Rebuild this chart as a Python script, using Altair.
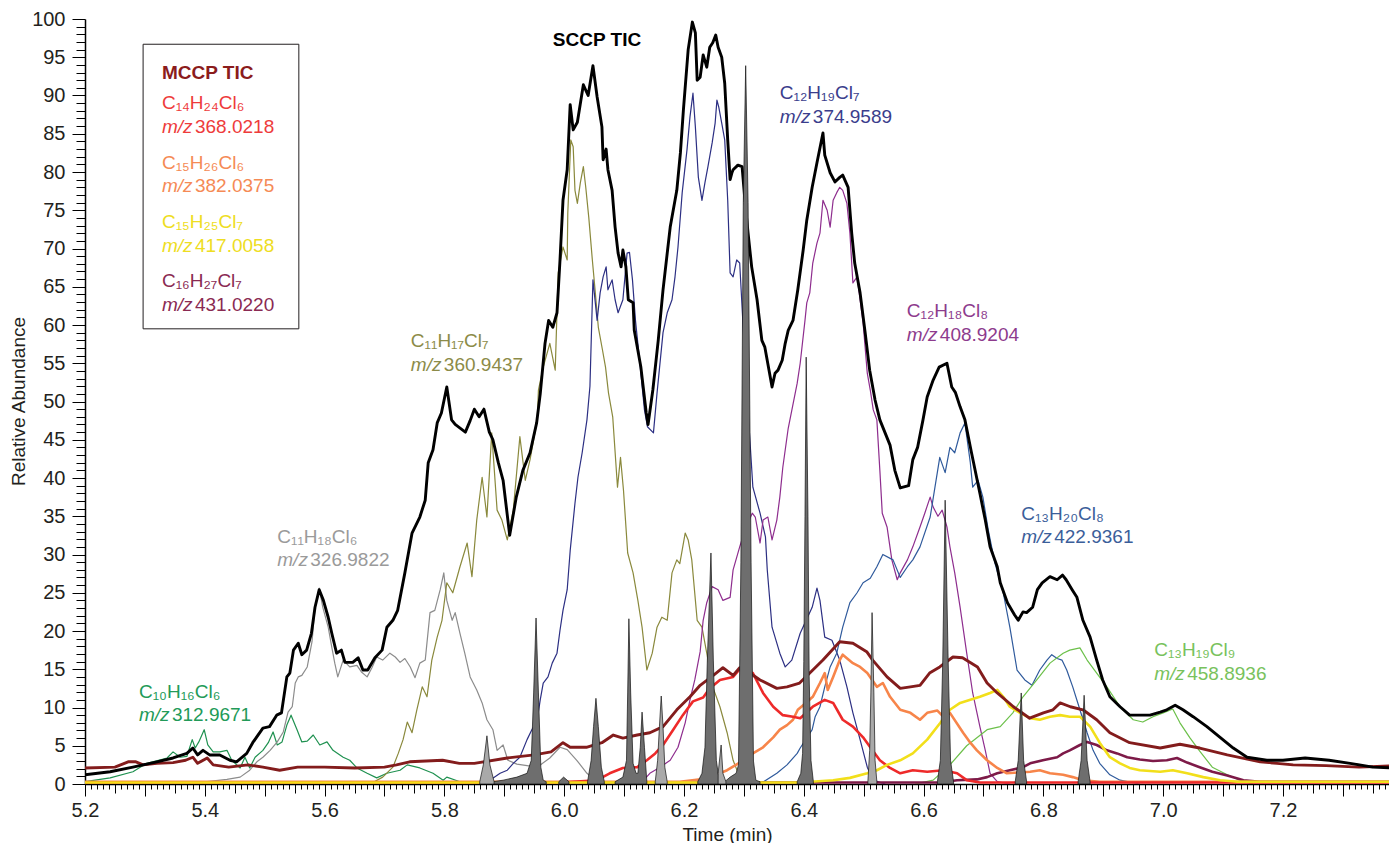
import altair as alt
import pandas as pd

FONT = "Liberation Sans Narrow, Arial Narrow, Liberation Sans, sans-serif"

# ---------------- data (time in min, relative abundance) ----------------
SCCP_TIC = [(5.200,1.2),(5.242,1.6),(5.280,2.2),(5.320,2.9),(5.347,3.4),(5.370,4.0),(5.380,4.7),(5.388,3.8),
 (5.397,4.4),(5.408,3.8),(5.425,3.8),(5.442,3.1),(5.453,2.9),(5.470,4.0),(5.480,5.4),(5.497,7.3),(5.508,7.5),
 (5.520,9.0),(5.528,9.3),(5.537,14.0),(5.542,14.5),(5.548,17.5),(5.556,18.4),(5.562,16.9),(5.570,17.5),
 (5.578,19.7),(5.584,23.1),(5.591,25.4),(5.598,24.0),(5.606,21.8),(5.612,19.7),(5.620,17.1),(5.628,17.5),
 (5.634,15.9),(5.647,15.9),(5.656,16.5),(5.664,14.9),(5.672,14.9),(5.684,16.5),(5.696,17.5),(5.704,20.5),
 (5.714,21.4),(5.722,22.7),(5.734,27.6),(5.746,32.8),(5.759,34.9),(5.768,37.1),(5.773,42.0),(5.781,43.7),
 (5.788,47.2),(5.795,48.5),(5.804,51.9),(5.812,47.6),(5.818,47.0),(5.835,46.0),(5.843,47.5),(5.850,49.0),
 (5.858,48.0),(5.866,49.0),(5.875,46.0),(5.881,45.0),(5.890,42.0),(5.898,39.7),(5.906,34.5),(5.909,32.5),
 (5.920,37.5),(5.931,41.0),(5.943,43.3),(5.954,47.2),(5.960,51.0),(5.968,57.6),(5.974,60.6),(5.981,59.7),
 (5.988,61.6),(5.993,68.5),(5.998,76.3),(6.005,80.3),(6.010,88.8),(6.015,85.5),(6.022,86.5),(6.032,91.4),
 (6.040,90.0),(6.048,93.9),(6.055,89.8),(6.063,85.9),(6.065,81.6),(6.070,83.0),(6.073,80.3),(6.080,77.6),
 (6.085,72.8),(6.090,69.4),(6.095,67.6),(6.098,69.8),(6.103,67.6),(6.107,63.3),(6.115,62.9),(6.117,59.3),
 (6.128,54.5),(6.137,48.5),(6.140,47.0),(6.148,51.5),(6.157,58.0),(6.165,64.6),(6.177,72.8),(6.188,77.6),
 (6.194,82.5),(6.199,88.1),(6.207,96.0),(6.214,99.6),(6.219,98.2),(6.222,92.0),(6.227,92.4),(6.232,95.3),
 (6.238,93.7),(6.243,96.3),(6.248,96.9),(6.253,97.9),(6.257,96.3),(6.263,95.0),(6.268,91.6),(6.273,84.2),
 (6.277,79.0),(6.280,79.9),(6.282,80.3),(6.290,80.9),(6.297,80.7),(6.302,76.0),(6.307,72.0),(6.313,67.6),
 (6.322,63.3),(6.330,58.0),(6.335,57.1),(6.344,53.2),(6.347,51.9),(6.352,53.7),(6.357,54.1),(6.364,55.4),
 (6.369,57.6),(6.374,59.3),(6.382,60.6),(6.390,64.6),(6.399,69.8),(6.405,73.7),(6.414,78.0),(6.422,81.2),
 (6.432,85.1),(6.435,82.2),(6.444,79.9),(6.452,78.7),(6.460,79.3),(6.465,79.6),(6.474,78.0),(6.480,72.0),
 (6.485,68.1),(6.494,64.2),(6.502,59.3),(6.510,54.1),(6.519,50.2),(6.527,47.6),(6.544,44.3),(6.552,41.0),
 (6.561,38.7),(6.575,39.0),(6.582,42.4),(6.590,44.0),(6.599,47.6),(6.606,50.6),(6.616,52.8),(6.626,54.5),
 (6.639,55.0),(6.647,51.9),(6.653,51.2),(6.661,49.3),(6.669,47.6),(6.680,43.3),(6.694,38.0),(6.703,34.5),
 (6.711,31.0),(6.723,28.4),(6.728,26.3),(6.740,23.7),(6.752,22.1),(6.758,21.4),(6.766,22.5),(6.772,22.4),
 (6.782,23.1),(6.790,25.4),(6.798,26.3),(6.811,27.1),(6.823,26.7),(6.832,27.3),(6.838,26.7),(6.848,25.4),
 (6.856,24.4),(6.866,21.4),(6.878,19.2),(6.889,16.2),(6.899,13.6),(6.911,11.4),(6.928,10.1),(6.944,9.0),
 (6.961,9.0),(6.978,9.0),(6.995,9.4),(7.006,9.7),(7.020,10.3),(7.033,9.7),(7.050,8.8),(7.073,7.5),
 (7.095,6.1),(7.117,4.7),(7.140,3.5),(7.173,3.1),(7.200,3.1),(7.237,3.4),(7.277,3.1),(7.312,2.7),
 (7.350,2.2),(7.390,2.1)]

MCCP_TIC = [(5.200,2.1),(5.250,2.2),(5.272,2.9),(5.285,2.9),(5.297,2.5),(5.320,2.7),(5.347,2.8),(5.368,3.1),
 (5.380,3.5),(5.388,2.7),(5.404,3.4),(5.414,2.5),(5.440,2.2),(5.472,2.5),(5.497,2.2),(5.525,1.8),(5.555,2.2),
 (5.600,2.2),(5.650,2.1),(5.700,2.2),(5.720,2.5),(5.742,2.9),(5.797,3.1),(5.825,2.7),(5.850,2.7),(5.905,3.4),
 (5.950,3.8),(5.978,4.2),(5.998,5.4),(6.010,4.8),(6.037,4.8),(6.063,5.4),(6.082,6.4),(6.098,6.0),(6.122,6.4),
 (6.143,6.7),(6.165,7.5),(6.188,9.7),(6.210,11.4),(6.227,12.9),(6.249,14.2),(6.265,15.2),(6.282,14.2),
 (6.293,15.2),(6.310,14.5),(6.327,13.6),(6.355,12.5),(6.372,12.7),(6.393,13.2),(6.410,14.5),(6.432,16.2),
 (6.460,18.6),(6.482,18.4),(6.505,17.3),(6.515,16.2),(6.539,14.0),(6.561,12.5),(6.578,12.7),(6.594,12.9),
 (6.610,14.5),(6.627,15.3),(6.649,16.6),(6.665,16.5),(6.690,15.3),(6.706,13.2),(6.723,11.9),(6.750,10.1),
 (6.777,8.6),(6.800,9.3),(6.816,9.7),(6.828,10.6),(6.845,10.1),(6.866,9.7),(6.889,8.4),(6.911,6.7),
 (6.944,5.4),(6.995,4.7),(7.028,5.2),(7.061,4.7),(7.107,3.8),(7.162,2.9),(7.190,2.7),(7.217,2.5),
 (7.272,2.4),(7.327,2.2),(7.390,2.4)]

C10H16Cl6 = [(5.200,0.3),(5.242,0.8),(5.280,1.6),(5.303,2.7),(5.313,2.9),(5.337,3.4),(5.347,4.2),(5.359,3.5),
 (5.370,3.6),(5.379,5.8),(5.384,4.7),(5.390,5.5),(5.399,7.1),(5.405,5.1),(5.414,4.2),(5.425,4.2),(5.437,4.4),
 (5.445,3.1),(5.459,2.1),(5.467,3.5),(5.475,2.1),(5.484,3.5),(5.497,4.4),(5.506,5.4),(5.514,6.8),(5.521,5.1),
 (5.529,5.5),(5.537,7.7),(5.544,9.0),(5.554,7.1),(5.562,5.5),(5.571,5.6),(5.581,6.4),(5.592,5.1),(5.604,5.5),
 (5.614,4.4),(5.631,3.5),(5.642,3.1),(5.654,2.1),(5.671,1.4),(5.687,0.8),(5.704,1.4),(5.726,1.8),(5.738,2.5),
 (5.759,2.1),(5.781,1.4),(5.798,0.5),(5.804,0.9),(5.826,0.3),(5.860,0.2),(5.950,0.1)]

C11H18Cl6 = [(5.392,0.0),(5.404,0.3),(5.437,0.6),(5.459,0.9),(5.475,1.8),(5.487,2.9),(5.497,3.5),(5.509,4.4),
 (5.521,5.5),(5.531,6.8),(5.539,9.4),(5.546,10.1),(5.551,13.2),(5.556,14.0),(5.562,14.2),(5.571,15.3),
 (5.579,18.6),(5.584,23.1),(5.591,25.6),(5.597,23.1),(5.606,20.5),(5.612,17.9),(5.617,15.8),(5.622,14.0),
 (5.631,16.2),(5.642,15.3),(5.654,15.5),(5.662,14.6),(5.671,14.0),(5.679,15.2),(5.687,16.6),(5.697,16.2),
 (5.709,17.1),(5.718,16.6),(5.726,15.9),(5.734,16.4),(5.743,15.3),(5.751,13.9),(5.759,15.8),(5.768,16.2),
 (5.776,22.4),(5.784,22.7),(5.793,25.4),(5.799,27.6),(5.804,24.0),(5.813,21.4),(5.818,22.4),(5.826,19.7),
 (5.834,17.1),(5.843,14.0),(5.854,12.3),(5.863,10.6),(5.871,8.4),(5.881,7.1),(5.888,4.4),(5.898,5.1),
 (5.906,3.1),(5.921,2.6),(5.955,2.2),(5.976,3.4),(5.993,4.8),(6.005,4.5),(6.021,3.1),(6.038,1.4),(6.055,0.3),
 (6.077,0.0)]

C11H17Cl7 = [(5.676,0.0),(5.697,0.9),(5.714,2.2),(5.723,4.0),(5.731,5.8),(5.738,8.1),(5.746,6.7),(5.754,9.7),
 (5.763,12.7),(5.771,11.4),(5.779,16.2),(5.788,19.2),(5.796,21.4),(5.804,26.3),(5.814,25.0),(5.826,28.4),
 (5.838,31.5),(5.846,27.1),(5.854,34.5),(5.863,40.1),(5.871,34.9),(5.879,45.9),(5.888,35.8),(5.896,34.5),
 (5.905,31.9),(5.915,35.8),(5.926,45.4),(5.935,39.7),(5.943,42.4),(5.955,47.6),(5.957,51.5),(5.965,54.5),
 (5.976,57.6),(5.985,54.1),(5.990,66.8),(5.998,70.2),(6.005,68.5),(6.006,74.6),(6.011,84.2),(6.015,83.3),
 (6.018,77.6),(6.022,75.9),(6.027,78.6),(6.032,80.7),(6.036,78.0),(6.041,74.1),(6.047,68.5),(6.052,64.2),
 (6.057,59.7),(6.064,56.7),(6.069,54.5),(6.074,51.1),(6.081,48.0),(6.089,38.8),(6.094,42.7),(6.099,38.4),
 (6.106,30.2),(6.115,27.6),(6.123,24.0),(6.130,20.5),(6.138,14.9),(6.147,17.1),(6.155,20.5),(6.163,21.8),
 (6.172,21.4),(6.180,27.6),(6.188,29.3),(6.193,28.8),(6.202,32.8),(6.207,31.9),(6.213,29.3),(6.222,21.4),
 (6.230,20.5),(6.238,17.1),(6.248,12.7),(6.260,10.1),(6.272,6.7),(6.282,3.1),(6.293,0.9),(6.305,0.3)]

C12H19Cl7 = [(5.859,0.0),(5.876,0.5),(5.893,1.4),(5.905,1.8),(5.915,2.7),(5.926,3.5),(5.938,5.8),(5.946,7.1),
 (5.955,8.4),(5.960,11.0),(5.965,13.2),(5.973,14.0),(5.980,15.8),(5.988,17.1),(5.993,20.1),(5.998,22.7),
 (6.005,25.4),(6.010,30.5),(6.018,36.7),(6.023,40.1),(6.030,43.3),(6.038,47.6),(6.043,52.0),(6.048,65.9),
 (6.055,60.6),(6.060,64.2),(6.065,66.3),(6.070,67.6),(6.073,64.6),(6.080,65.9),(6.085,63.3),(6.090,61.6),
 (6.098,63.3),(6.105,69.4),(6.109,69.5),(6.114,65.9),(6.119,60.6),(6.127,54.5),(6.134,48.9),(6.139,46.7),
 (6.149,45.9),(6.155,51.1),(6.165,59.0),(6.172,61.6),(6.180,63.3),(6.185,66.3),(6.190,70.2),(6.197,77.3),
 (6.205,82.9),(6.210,87.2),(6.215,90.3),(6.219,85.9),(6.224,79.3),(6.230,76.3),(6.235,78.6),(6.240,80.7),
 (6.247,83.8),(6.252,86.4),(6.255,89.4),(6.258,88.5),(6.263,86.4),(6.268,84.2),(6.273,76.3),(6.277,66.8),
 (6.282,66.3),(6.288,68.5),(6.293,68.1),(6.302,55.0),(6.315,38.8),(6.327,35.4),(6.336,32.3),(6.339,28.0),
 (6.347,20.5),(6.360,17.1),(6.369,15.3),(6.380,16.2),(6.394,19.7),(6.414,23.1),(6.422,25.6),(6.427,24.0),
 (6.435,19.2),(6.447,18.8),(6.460,16.2),(6.472,12.7),(6.482,9.3),(6.494,5.8),(6.506,2.2),(6.516,0.5),
 (6.536,0.0)]

C12H18Cl8 = [(6.127,0.0),(6.143,1.4),(6.160,2.2),(6.177,3.1),(6.190,4.8),(6.202,8.0),(6.210,11.0),(6.218,13.6),
 (6.227,17.3),(6.232,21.4),(6.238,23.7),(6.247,25.8),(6.257,25.4),(6.265,24.0),(6.277,24.4),(6.282,28.0),
 (6.293,31.0),(6.303,33.5),(6.314,35.4),(6.319,34.9),(6.327,31.5),(6.332,34.5),(6.340,34.9),(6.347,31.9),
 (6.355,34.5),(6.360,37.5),(6.365,41.4),(6.374,46.5),(6.389,52.4),(6.394,55.0),(6.402,60.6),(6.405,62.9),
 (6.410,64.2),(6.415,68.1),(6.422,70.7),(6.427,72.0),(6.432,76.3),(6.439,75.0),(6.444,72.8),(6.449,76.3),
 (6.455,77.3),(6.460,78.0),(6.465,77.6),(6.472,75.9),(6.477,72.0),(6.482,65.5),(6.489,66.3),(6.494,63.3),
 (6.499,60.3),(6.506,53.7),(6.511,51.5),(6.516,48.9),(6.522,47.6),(6.527,41.0),(6.531,35.4),(6.539,33.6),
 (6.547,29.3),(6.556,26.7),(6.561,27.6),(6.573,29.3),(6.582,31.0),(6.594,33.6),(6.602,35.4),(6.611,37.5),
 (6.616,36.2),(6.624,35.0),(6.631,35.8),(6.639,33.6),(6.644,31.0),(6.652,27.6),(6.661,23.1),(6.672,17.1),
 (6.682,11.9),(6.694,7.5),(6.703,4.4),(6.711,1.4),(6.723,0.3),(6.744,0.0)]

C13H20Cl8 = [(6.327,0.0),(6.355,1.4),(6.372,2.5),(6.389,4.0),(6.394,4.7),(6.414,7.1),(6.419,8.8),(6.427,10.1),
 (6.435,12.7),(6.444,15.3),(6.455,17.1),(6.465,20.5),(6.477,23.7),(6.489,25.0),(6.499,26.3),(6.511,26.9),
 (6.522,28.4),(6.532,30.0),(6.549,29.3),(6.561,27.0),(6.573,28.4),(6.582,29.3),(6.594,31.0),(6.611,34.9),
 (6.619,38.8),(6.627,42.7),(6.636,40.7),(6.644,44.0),(6.652,43.3),(6.661,45.9),(6.669,47.2),(6.678,42.0),
 (6.682,38.8),(6.691,39.7),(6.699,37.5),(6.708,33.2),(6.719,28.9),(6.733,25.0),(6.744,20.5),(6.756,14.9),
 (6.769,13.6),(6.781,12.9),(6.794,14.9),(6.806,16.2),(6.814,16.9),(6.823,16.4),(6.831,16.2),(6.839,14.9),
 (6.849,12.7),(6.861,9.7),(6.873,6.7),(6.883,4.4),(6.894,2.7),(6.911,1.2),(6.928,0.5),(6.961,0.0)]

C13H19Cl9 = [(6.586,0.0),(6.616,0.5),(6.644,2.5),(6.672,5.0),(6.706,7.1),(6.728,7.5),(6.749,9.3),(6.766,11.4),
 (6.789,13.6),(6.811,15.8),(6.833,17.1),(6.844,17.5),(6.861,17.8),(6.873,16.2),(6.889,14.5),(6.906,12.7),
 (6.928,10.1),(6.950,8.4),(6.966,8.1),(6.983,8.8),(7.000,9.3),(7.016,9.8),(7.028,8.0),(7.045,6.0),
 (7.061,4.3),(7.082,2.2),(7.107,1.2),(7.128,0.5),(7.150,0.0)]

C14H24Cl6 = [(5.200,0.2),(5.950,0.2),(5.993,0.2),(6.055,0.5),(6.076,1.4),(6.098,2.1),(6.122,2.2),(6.138,3.1),
 (6.152,4.0),(6.165,5.1),(6.182,7.1),(6.198,9.0),(6.215,10.8),(6.232,11.3),(6.243,12.5),(6.260,13.6),
 (6.282,14.0),(6.293,15.0),(6.315,14.5),(6.332,11.9),(6.349,10.1),(6.365,9.0),(6.382,8.8),(6.394,8.6),
 (6.415,10.1),(6.435,11.0),(6.449,10.6),(6.465,8.4),(6.482,7.5),(6.499,6.1),(6.511,4.8),(6.527,3.1),
 (6.544,2.1),(6.561,1.4),(6.582,1.8),(6.606,1.6),(6.633,1.8),(6.656,1.4),(6.672,0.5),(6.694,0.2),(7.390,0.2)]

C15H26Cl6 = [(5.200,0.3),(6.193,0.3),(6.238,0.7),(6.272,1.8),(6.293,2.8),(6.315,4.0),(6.332,4.8),(6.349,6.1),
 (6.360,7.1),(6.372,7.7),(6.382,8.4),(6.390,9.7),(6.402,10.5),(6.415,11.4),(6.427,13.2),(6.435,14.5),
 (6.440,12.3),(6.449,14.0),(6.460,16.2),(6.465,16.9),(6.482,15.8),(6.494,15.3),(6.506,14.5),(6.522,12.7),
 (6.532,13.2),(6.544,11.4),(6.561,9.7),(6.578,9.3),(6.594,8.4),(6.606,9.3),(6.623,9.6),(6.633,8.8),
 (6.644,9.3),(6.666,6.7),(6.678,5.4),(6.689,4.4),(6.706,3.1),(6.723,2.1),(6.739,1.4),(6.778,1.6),
 (6.794,1.8),(6.811,1.4),(6.833,1.2),(6.849,0.9),(6.866,0.5),(6.894,0.3),(7.390,0.3)]

C15H25Cl7 = [(5.200,0.2),(6.394,0.2),(6.449,0.5),(6.477,0.8),(6.506,1.4),(6.522,1.8),(6.539,2.5),(6.561,3.1),
 (6.582,4.0),(6.606,5.8),(6.628,8.0),(6.644,9.7),(6.661,10.6),(6.678,11.0),(6.694,11.4),(6.711,11.9),
 (6.723,12.3),(6.733,11.4),(6.744,10.1),(6.761,9.3),(6.778,8.6),(6.794,8.4),(6.811,8.8),(6.828,9.0),
 (6.844,8.8),(6.861,8.8),(6.878,7.5),(6.894,5.4),(6.911,3.5),(6.928,2.7),(6.944,2.1),(6.961,1.8),
 (6.995,1.6),(7.016,1.8),(7.040,1.4),(7.067,0.9),(7.095,0.5),(7.124,0.3),(7.390,0.3)]

C16H27Cl7 = [(5.200,0.2),(6.627,0.2),(6.656,0.5),(6.689,0.6),(6.706,0.9),(6.723,1.4),(6.744,1.8),(6.766,2.2),
 (6.778,2.7),(6.799,3.1),(6.823,3.5),(6.833,4.0),(6.844,4.4),(6.861,5.1),(6.873,5.5),(6.889,5.1),(6.906,4.4),
 (6.923,4.0),(6.940,3.5),(6.961,3.2),(6.983,3.0),(7.006,3.1),(7.023,3.4),(7.040,2.8),(7.061,2.2),(7.082,1.6),
 (7.107,1.1),(7.134,0.5),(7.162,0.3),(7.390,0.3)]

# internal-standard style peaks (filled)
PEAKS_DARK = [
 [(5.881,0.3),(5.898,0.5),(5.921,0.9),(5.938,1.4),(5.945,3.1),(5.949,11.9),(5.953,21.7),(5.957,11.9),(5.961,2.2),(5.965,0.5),(5.970,0.3)],
 [(5.991,0.3),(5.999,0.9),(6.008,0.3)],
 [(6.039,0.3),(6.045,3.1),(6.049,7.5),(6.053,11.2),(6.057,7.5),(6.062,2.2),(6.067,0.3)],
 [(6.085,0.3),(6.098,0.9),(6.104,3.1),(6.106,11.9),(6.108,21.6),(6.111,11.9),(6.115,2.7),(6.120,1.4),(6.123,1.4),(6.127,4.8),(6.130,9.4),(6.134,4.8),(6.138,0.3)],
 [(6.223,0.3),(6.230,1.4),(6.235,4.8),(6.239,16.2),(6.245,30.2),(6.249,16.2),(6.254,3.1),(6.257,1.4),(6.260,0.3)],
 [(6.268,0.3),(6.277,0.9),(6.287,1.4),(6.291,2.5),(6.295,29.0),(6.299,76.0),(6.303,93.9),(6.307,76.0),(6.312,29.0),(6.316,3.0),(6.320,0.5),(6.327,0.3)],
 [(6.389,0.3),(6.395,1.4),(6.398,4.0),(6.400,16.0),(6.402,35.0),(6.404,55.8),(6.407,35.0),(6.409,14.0),(6.412,3.1),(6.416,0.3)],
 [(6.623,0.3),(6.628,3.1),(6.632,16.2),(6.636,37.1),(6.641,16.2),(6.645,3.1),(6.650,0.3)],
 [(6.753,0.3),(6.758,3.1),(6.763,11.9),(6.767,3.1),(6.772,0.3)],
 [(6.858,0.3),(6.863,3.1),(6.868,11.6),(6.873,3.1),(6.878,0.3)],
]
PEAKS_LIGHT = [
 [(5.859,0.3),(5.865,2.5),(5.871,6.3),(5.876,2.5),(5.883,0.3)],
 [(6.152,0.3),(6.156,3.1),(6.159,7.5),(6.162,11.5),(6.165,7.5),(6.168,2.2),(6.172,0.3)],
 [(6.257,1.4),(6.262,5.1),(6.265,1.4),(6.270,0.3)],
 [(6.507,0.3),(6.510,4.4),(6.512,11.9),(6.514,22.4),(6.517,11.9),(6.519,3.1),(6.522,0.3)],
]

X_TICKS = [round(5.20 + 0.01 * i, 2) for i in range(219)]
Y_TICKS = list(range(0, 101))

# ---------------- styles ----------------
THIN = {"C10H16Cl6": (C10H16Cl6, "#1f9150"), "C11H18Cl6": (C11H18Cl6, "#8c8c8c"),
        "C11H17Cl7": (C11H17Cl7, "#8a893c"), "C12H19Cl7": (C12H19Cl7, "#2c2f83"),
        "C12H18Cl8": (C12H18Cl8, "#8e2d8e"), "C13H20Cl8": (C13H20Cl8, "#2f5a9c"),
        "C13H19Cl9": (C13H19Cl9, "#6cc04a")}
THICK = {"C16H27Cl7": (C16H27Cl7, "#7d1a48"), "C15H26Cl6": (C15H26Cl6, "#f7854a"),
         "C14H24Cl6": (C14H24Cl6, "#ee2a2a"), "C15H25Cl7": (C15H25Cl7, "#f2df1a")}
TICS = {"MCCP TIC": (MCCP_TIC, "#831c1c"), "SCCP TIC": (SCCP_TIC, "#000000")}


def long_df(d):
    rows = []
    for k, (name, (pts, col)) in enumerate(d.items()):
        for i, (t, v) in enumerate(pts):
            rows.append({"series": name, "t": t, "v": v, "i": i, "c": col, "k": k})
    return pd.DataFrame(rows)


XDOM = [5.2, 7.377]
xs = alt.Scale(domain=XDOM, nice=False, zero=False)
ys = alt.Scale(domain=[0, 100], nice=False, zero=True)

x_axis = alt.Axis(
    values=X_TICKS, title="Time (min)", grid=False,
    labelExpr="abs(datum.value*5 - round(datum.value*5)) < 0.001 ? format(datum.value, '.1f') : ''",
    labelFlush=False, labelOverlap=False, labelFont=FONT, labelFontSize=20, labelColor="#231f20",
    labelPadding=4,
    tickSize={"condition": [{"test": "abs(datum.value*10 - round(datum.value*10)) < 0.001", "value": 12},
                            {"test": "abs(datum.value*20 - round(datum.value*20)) < 0.001", "value": 9}],
              "value": 5},
    tickColor="#000", tickWidth=1, domainColor="#000", domainWidth=1.5,
    titleFont=FONT, titleFontSize=19, titleFontWeight="normal", titleColor="#231f20",
    titleX=642, titleY=50, titleBaseline="middle", titleAlign="center")
y_axis = alt.Axis(
    values=Y_TICKS, title="Relative Abundance", grid=False,
    labelExpr="datum.value % 5 == 0 ? datum.label : ''",
    labelFlush=False, labelOverlap=False, labelFont=FONT, labelFontSize=20, labelColor="#231f20",
    labelPadding=7, labelBaseline="middle",
    tickSize={"condition": {"test": "datum.value % 5 == 0", "value": 13}, "value": 9},
    tickColor="#000", tickWidth=1, domainColor="#000", domainWidth=1.5,
    titleFont=FONT, titleFontSize=19, titleFontWeight="normal", titleColor="#231f20",
    titleX=-67, titleY=382, titleBaseline="middle", titleAlign="center", titleAngle=270)

X = alt.X("t:Q", scale=xs, axis=x_axis)
Y = alt.Y("v:Q", scale=ys, axis=y_axis)


def line_layer(d, width):
    df = long_df(d)
    return alt.Chart(df).mark_line(strokeWidth=width, clip=True, strokeJoin="round").encode(
        x=X, y=Y,
        color=alt.Color("c:N", scale=None),
        detail="series:N", order="i:Q")


thin = line_layer(THIN, 1.2)
thick = line_layer(THICK, 2.6)
tics = line_layer(TICS, 2.9)

prow = []
for shade, col, plist in (("dark", "#6e6e6e", PEAKS_DARK), ("light", "#a9a9a9", PEAKS_LIGHT)):
    for k, pts in enumerate(plist):
        for i, (t, v) in enumerate(pts):
            prow.append({"peak": f"{shade}{k}", "fc": col, "t": t, "v": v, "i": i})
peaks = alt.Chart(pd.DataFrame(prow)).mark_area(
    stroke="#111", strokeWidth=0.7, clip=True, fillOpacity=1, strokeJoin="miter").encode(
    x=X, y=alt.Y("v:Q", scale=ys, axis=y_axis, stack=None),
    fill=alt.Fill("fc:N", scale=None),
    detail="peak:N")

# ---------------- annotations ----------------
LABELS = pd.DataFrame([
    {"f": "C₁₂H₁₉Cl₇", "mz": "374.9589", "t": 6.360, "vf": 90.3, "vm": 87.2, "c": "#3a3d8c"},
    {"f": "C₁₁H₁₇Cl₇", "mz": "360.9437", "t": 5.744, "vf": 57.9, "vm": 54.8, "c": "#8c8b48"},
    {"f": "C₁₂H₁₈Cl₈", "mz": "408.9204", "t": 6.572, "vf": 61.8, "vm": 58.7, "c": "#8d3b8d"},
    {"f": "C₁₁H₁₈Cl₆", "mz": "326.9822", "t": 5.521, "vf": 32.3, "vm": 29.3, "c": "#9a9a9a"},
    {"f": "C₁₀H₁₆Cl₆", "mz": "312.9671", "t": 5.290, "vf": 12.0, "vm": 9.0, "c": "#229a58"},
    {"f": "C₁₃H₂₀Cl₈", "mz": "422.9361", "t": 6.763, "vf": 35.3, "vm": 32.3, "c": "#3b5e9a"},
    {"f": "C₁₃H₁₉Cl₉", "mz": "458.8936", "t": 6.985, "vf": 17.5, "vm": 14.4, "c": "#78c25c"},
    {"f": "C₁₄H₂₄Cl₆", "mz": "368.0218", "t": 5.3285, "vf": 89.0, "vm": 85.9, "c": "#ee3b3b"},
    {"f": "C₁₅H₂₆Cl₆", "mz": "382.0375", "t": 5.3285, "vf": 81.2, "vm": 78.2, "c": "#f58a55"},
    {"f": "C₁₅H₂₅Cl₇", "mz": "417.0058", "t": 5.3285, "vf": 73.5, "vm": 70.3, "c": "#eedd22"},
    {"f": "C₁₆H₂₇Cl₇", "mz": "431.0220", "t": 5.3285, "vf": 65.8, "vm": 62.6, "c": "#8a2a52"},
])
TITLES = pd.DataFrame([
    {"txt": "SCCP TIC", "t": 5.981, "v": 97.2, "c": "#000000"},
    {"txt": "MCCP TIC", "t": 5.3285, "v": 92.9, "c": "#8b1c1c"},
])
BOX = pd.DataFrame([{"t": 5.297, "t2": 5.557, "v": 96.7, "v2": 59.5}])

base_txt = dict(align="left", baseline="middle", font=FONT, fontSize=19)
f_txt = alt.Chart(LABELS).mark_text(**base_txt).encode(
    x=X, y=alt.Y("vf:Q", scale=ys, axis=y_axis), text="f:N", color=alt.Color("c:N", scale=None))
m_txt = alt.Chart(LABELS).mark_text(fontStyle="italic", **base_txt).encode(
    x=X, y=alt.Y("vm:Q", scale=ys, axis=y_axis), text=alt.value("m/z"), color=alt.Color("c:N", scale=None))
n_txt = alt.Chart(LABELS).mark_text(dx=33, **base_txt).encode(
    x=X, y=alt.Y("vm:Q", scale=ys, axis=y_axis), text="mz:N", color=alt.Color("c:N", scale=None))
t_txt = alt.Chart(TITLES).mark_text(fontWeight="bold", **base_txt).encode(
    x=X, y=Y, text="txt:N", color=alt.Color("c:N", scale=None))
box = alt.Chart(BOX).mark_rect(fillOpacity=0, stroke="#231f20", strokeWidth=1).encode(
    x=X, x2="t2:Q", y=Y, y2="v2:Q")

chart = alt.layer(thin, thick, tics, peaks, box, f_txt, m_txt, n_txt, t_txt).properties(
    width=1304, height=765,
    autosize=alt.AutoSizeParams(type="none"),
    padding={"left": 77, "top": 11, "right": 0, "bottom": 59},
).configure_view(stroke=None)

chart.save("out.html", embed_options={"renderer": "svg", "actions": False})
